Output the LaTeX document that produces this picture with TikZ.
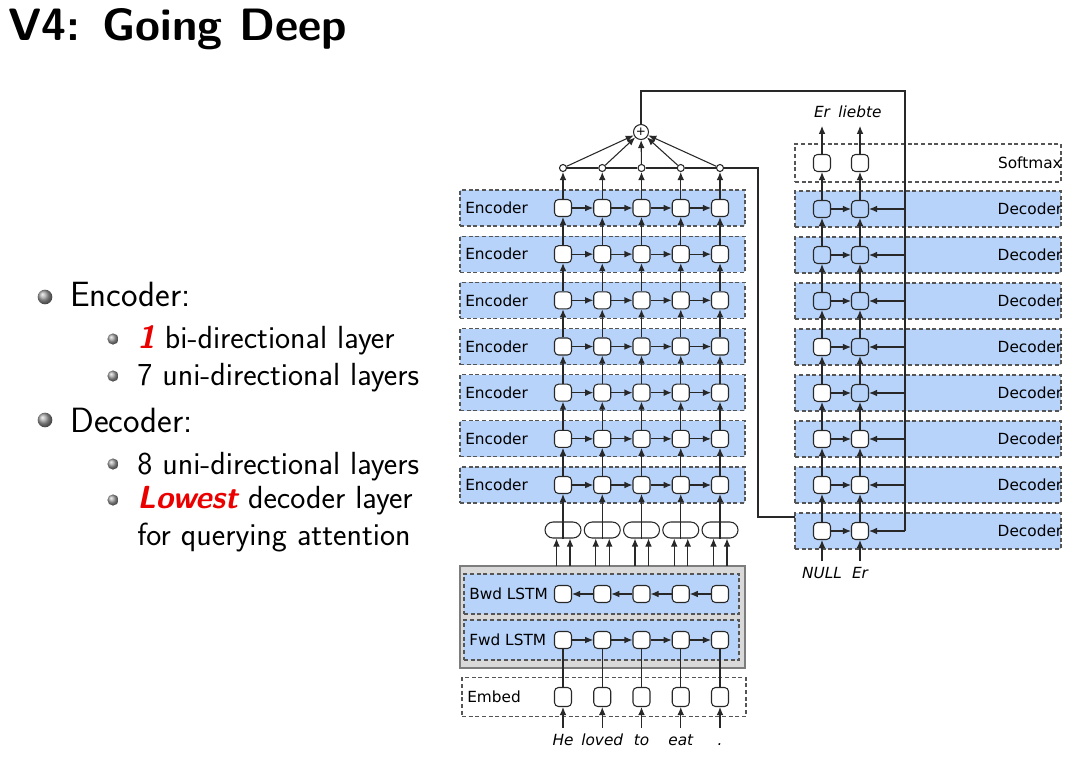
\documentclass[tikz,border=0pt]{standalone}
\usepackage{fontspec}
\newfontfamily\dvs{DejaVu Sans}
\usetikzlibrary{arrows.meta,shadings}
\definecolor{bandblue}{RGB}{183,211,250}
\definecolor{edge}{RGB}{85,85,85}
\definecolor{wire}{RGB}{40,40,40}
\definecolor{boxgray}{RGB}{217,217,217}
\definecolor{boxedge}{RGB}{125,125,125}
\definecolor{alertred}{RGB}{235,0,0}
\begin{document}
\begin{tikzpicture}[x=0.75pt,y=-0.75pt,
  font=\dvs\fontsize{11.5}{13}\selectfont,
  band/.style={draw=edge,line width=0.8pt,dash pattern=on 3pt off 2pt,fill=bandblue,minimum height=27pt,inner sep=0pt},
  plainband/.style={band,fill=white},
  cell/.style={draw=wire,fill=white,line width=0.8pt,rounded corners=3pt,minimum width=12.75pt,minimum height=12.75pt,inner sep=0pt},
  bluecell/.style={cell,fill=none},
  tallcell/.style={cell,minimum height=14.25pt},
  pill/.style={draw=wire,fill=white,line width=0.8pt,rounded corners=6pt,minimum width=27pt,minimum height=12pt,inner sep=0pt},
  dot/.style={circle,draw=wire,fill=white,line width=0.8pt,minimum size=5.25pt,inner sep=0pt},
  wirel/.style={draw=wire,line width=0.8pt},
  arr/.style={wirel,-{Latex[length=6pt,width=5pt]}},
  lbl/.style={inner sep=0pt},
  word/.style={anchor=base,inner sep=4pt,text height=8.5pt,text depth=2.5pt,font=\dvs\itshape\fontsize{11.5}{13}\selectfont},
  slide/.style={anchor=base west,inner sep=0pt,font=\sffamily\fontsize{26.3}{31}\selectfont},
  subslide/.style={anchor=base west,inner sep=0pt,font=\sffamily\fontsize{24}{28}\selectfont},
  bigball/.style={ball color=gray!75},
]
\useasboundingbox (0,0) rectangle (1071,768);

% ---- slide title and bullet list ----
\node[anchor=base west,inner sep=0pt,font=\sffamily\bfseries\fontsize{34}{39}\selectfont] (title) at (8,40) {V4: Going Deep};

\shade[bigball] (45,297) circle (5.5pt);
\node[slide] (t1) at (70,306) {Encoder:};
\shade[bigball] (113,339) circle (4.2pt);
\node[subslide] (t2) at (137,348) {{\color{alertred}\bfseries\itshape 1} bi-directional layer};
\shade[bigball] (113,376) circle (4.2pt);
\node[subslide] (t3) at (137,385) {7 uni-directional layers};
\shade[bigball] (45,420) circle (5.5pt);
\node[slide] (t4) at (70,432) {Decoder:};
\shade[bigball] (113,464) circle (4.2pt);
\node[subslide] (t5) at (137,474) {8 uni-directional layers};
\shade[bigball] (113,500) circle (4.2pt);
\node[subslide] (t6) at (137,508) {{\color{alertred}\bfseries\itshape Lowest} decoder layer};
\node[subslide] (t7) at (137,545) {for querying attention};

% ---- encoder stack (7 uni-directional layers) ----
\foreach \r in {1,...,7} {
  \pgfmathsetmacro\yy{208+46.17*(\r-1)}
  \node[band,minimum width=213.75pt] (eb\r) at (602.5,\yy) {};
  \node[lbl,anchor=west] (el\r) at (465,\yy) {Encoder};
  \foreach \c in {1,...,5} {
    \pgfmathsetmacro\xx{563+39.25*(\c-1)}
    \node[cell] (e\r-\c) at (\xx,\yy) {};
  }
}
\foreach \r in {1,...,7}
  \foreach \c/\n in {1/2,2/3,3/4,4/5}
    \draw[arr] (e\r-\c) -- (e\r-\n);
\foreach \r/\p in {2/1,3/2,4/3,5/4,6/5,7/6}
  \foreach \c in {1,...,5}
    \draw[arr] (e\r-\c) -- (e\p-\c);

% ---- attention: score dots and sum ----
\node[circle,draw=wire,fill=white,line width=0.8pt,minimum size=11.25pt,inner sep=0pt] (sum) at (641,132) {\fontsize{9}{9}\selectfont +};
\foreach \c in {1,...,5} {
  \pgfmathsetmacro\xx{563+39.25*(\c-1)}
  \node[dot] (a\c) at (\xx,168) {};
  \draw[arr] (e1-\c) -- (a\c);
  \draw[arr] (a\c) -- (sum);
}
\draw[wirel] (a1) -- (a2) -- (a3) -- (a4) -- (a5);
\coordinate (qa) at (758,168);
\coordinate (qb) at (758,517);
\coordinate (qjoin) at (822,517);
\draw[wirel] (a5) -- (qa) -- (qb) -- (qjoin);

% ---- bi-directional bottom layer ----
\node[draw=boxedge,fill=boxgray,line width=1.5pt,minimum width=213.75pt,minimum height=76.5pt,inner sep=0pt] (gbox) at (602.5,617) {};
\node[band,minimum width=206.25pt,minimum height=30pt] (bwd) at (601.5,594) {};
\node[band,minimum width=206.25pt,minimum height=30pt] (fwd) at (601.5,640) {};
\node[lbl,anchor=west] (bl) at (469,594) {Bwd LSTM};
\node[lbl,anchor=west] (fl) at (469,640) {Fwd LSTM};
\foreach \c in {1,...,5} {
  \pgfmathsetmacro\xx{563+39.25*(\c-1)}
  \node[cell] (b\c) at (\xx,594) {};
  \node[cell] (f\c) at (\xx,640) {};
}
\foreach \c/\n in {1/2,2/3,3/4,4/5} {
  \draw[arr] (b\n) -- (b\c);
  \draw[arr] (f\c) -- (f\n);
}

% ---- concatenation of both directions ----
\foreach \c in {1,...,5} {
  \pgfmathsetmacro\xx{563+39.25*(\c-1)}
  \node[pill] (p\c) at (\xx,530) {};
  \draw[wirel] (p\c.north) -- (p\c.south);
  \draw[arr] (p\c) -- (e7-\c);
  \pgfmathsetmacro\xl{\xx-6.5}
  \pgfmathsetmacro\xr{\xx+7}
  \coordinate (pl\c) at (\xl,566);
  \coordinate (pr\c) at (\xr,566);
  \draw[arr] (pl\c) -- (pl\c |- p\c.south);
  \draw[arr] (pr\c) -- (pr\c |- p\c.south);
}

% ---- embedding layer and source words ----
\node[plainband,minimum width=213pt,minimum height=29.25pt] (emb) at (604,697) {};
\node[lbl,anchor=west] (ml) at (467,697) {Embed};
\foreach \c/\w in {1/He,2/loved,3/to,4/eat,5/.} {
  \pgfmathsetmacro\xx{563+39.25*(\c-1)}
  \node[tallcell] (m\c) at (\xx,697) {};
  \draw[wirel] (f\c) -- (m\c);
  \node[word] (w\c) at (\xx,745) {\w};
  \draw[arr] (w\c) -- (m\c);
}

% ---- decoder stack (8 layers) with softmax ----
\node[plainband,minimum width=199.5pt,minimum height=28.5pt] (smb) at (928,163) {};
\node[lbl,anchor=east] (sml) at (1062,163) {Softmax};
\node[cell] (s1) at (822,163) {};
\node[cell] (s2) at (860,163) {};
\foreach \r in {1,...,8} {
  \pgfmathsetmacro\yy{209+46*(\r-1)}
  \node[band,minimum width=199.5pt] (db\r) at (928,\yy) {};
  \node[lbl,anchor=east] (dl\r) at (1062.5,\yy) {Decoder};
}
\foreach \r/\sa/\sb in {1/bluecell/bluecell,2/bluecell/bluecell,3/bluecell/bluecell,4/cell/bluecell,5/cell/bluecell,6/cell/cell,7/cell/cell,8/cell/cell} {
  \pgfmathsetmacro\yy{209+46*(\r-1)}
  \node[\sa] (d\r-1) at (822,\yy) {};
  \node[\sb] (d\r-2) at (860,\yy) {};
  \draw[arr] (d\r-1) -- (d\r-2);
}
\foreach \r/\p in {2/1,3/2,4/3,5/4,6/5,7/6,8/7}
  \foreach \c in {1,2}
    \draw[arr] (d\r-\c) -- (d\p-\c);
\foreach \c in {1,2}
  \draw[arr] (d1-\c) -- (s\c);

% ---- context vector fed to every decoder layer ----
\coordinate (cr) at (905,91);
\coordinate (cb) at (905,531);
\draw[wirel] (sum) |- (cr) -- (cb);
\foreach \r in {1,...,8}
  \draw[arr] (cb |- d\r-2) -- (d\r-2);

% ---- target words ----
\node[word] (o1) at (822,117) {Er};
\node[word] (o2) at (860,117) {liebte};
\node[word] (n1) at (822,578) {NULL};
\node[word] (n2) at (860,578) {Er};
\foreach \c in {1,2} {
  \draw[arr] (s\c) -- (o\c);
  \draw[arr] (n\c) -- (d8-\c);
}
\end{tikzpicture}
\end{document}
